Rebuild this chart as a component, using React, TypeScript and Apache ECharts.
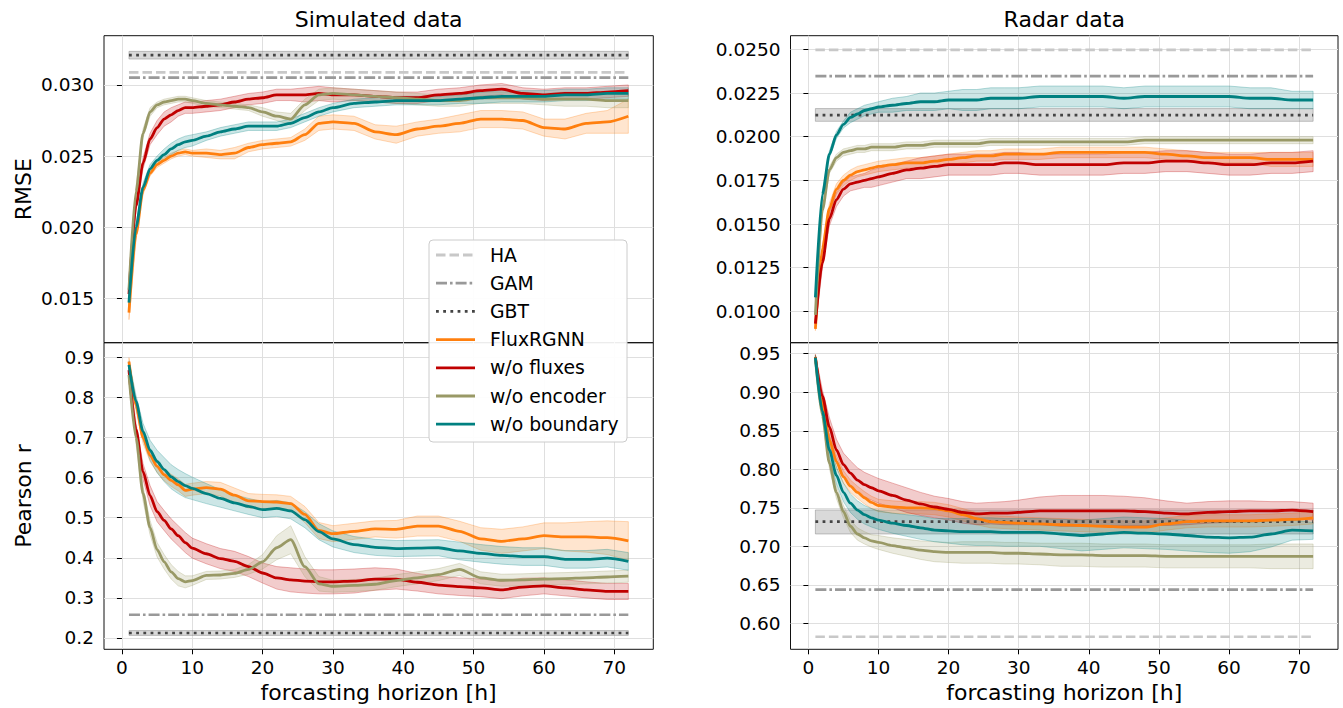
import { useEffect, useRef } from 'react';
import * as echarts from 'echarts';

// ---------- data ----------
const HOURS = [1, 2, 3, 4, 5, 6, 7, 8, 9, 10, 12, 14, 16, 18, 20, 22, 24, 26, 28, 30, 33, 36, 39, 42, 45, 48, 51, 54, 57, 60, 63, 66, 69, 72];
const X_TICKS = [0, 10, 20, 30, 40, 50, 60, 70];

const MODEL_NAMES = ['FluxRGNN', 'w/o fluxes', 'w/o encoder', 'w/o boundary'];
const BASELINE_NAMES = ['HA', 'GAM', 'GBT'];

// Simulated data – RMSE
const SIM_RMSE_TICKS = [0.015, 0.02, 0.025, 0.03];
const SIM_RMSE_FLUX = [0.0140, 0.0195, 0.0226, 0.0238, 0.0244, 0.0247, 0.0250, 0.0252, 0.0253, 0.0252, 0.0252, 0.0251, 0.0252, 0.0256, 0.0258, 0.0259, 0.0260, 0.0265, 0.0273, 0.0274, 0.0273, 0.0267, 0.0265, 0.0269, 0.0271, 0.0273, 0.0276, 0.0276, 0.0275, 0.0270, 0.0269, 0.0273, 0.0274, 0.0278];
const SIM_RMSE_FLUX_SD = [0.0005, 0.0004, 0.0003, 0.0002, 0.0002, 0.0002, 0.0002, 0.0002, 0.0002, 0.0002, 0.0003, 0.0003, 0.0004, 0.0003, 0.0003, 0.0003, 0.0003, 0.0004, 0.0005, 0.0005, 0.0005, 0.0005, 0.0006, 0.0005, 0.0005, 0.0006, 0.0006, 0.0006, 0.0006, 0.0006, 0.0007, 0.0007, 0.0008, 0.0012];
const SIM_RMSE_NOFLUX = [0.0153, 0.0215, 0.0245, 0.0262, 0.0270, 0.0276, 0.0279, 0.0282, 0.0284, 0.0284, 0.0285, 0.0286, 0.0288, 0.0290, 0.0291, 0.0293, 0.0293, 0.0293, 0.0294, 0.0293, 0.0293, 0.0292, 0.0291, 0.0291, 0.0293, 0.0294, 0.0296, 0.0297, 0.0294, 0.0293, 0.0294, 0.0294, 0.0295, 0.0296];
const SIM_RMSE_NOFLUX_SD = [0.0003, 0.0003, 0.0004, 0.0004, 0.0005, 0.0005, 0.0005, 0.0004, 0.0004, 0.0004, 0.0004, 0.0004, 0.0004, 0.0004, 0.0004, 0.0004, 0.0004, 0.0005, 0.0005, 0.0005, 0.0004, 0.0004, 0.0004, 0.0004, 0.0004, 0.0004, 0.0004, 0.0004, 0.0004, 0.0004, 0.0004, 0.0004, 0.0004, 0.0004];
const SIM_RMSE_NOENC = [0.0156, 0.0225, 0.0266, 0.0281, 0.0286, 0.0288, 0.0289, 0.0290, 0.0290, 0.0289, 0.0287, 0.0286, 0.0285, 0.0284, 0.0281, 0.0278, 0.0276, 0.0286, 0.0293, 0.0294, 0.0293, 0.0292, 0.0291, 0.0290, 0.0289, 0.0289, 0.0291, 0.0291, 0.0291, 0.0290, 0.0290, 0.0290, 0.0289, 0.0289];
const SIM_RMSE_NOENC_SD = [0.0002, 0.0003, 0.0003, 0.0003, 0.0002, 0.0002, 0.0002, 0.0002, 0.0002, 0.0002, 0.0002, 0.0002, 0.0002, 0.0002, 0.0003, 0.0003, 0.0004, 0.0004, 0.0004, 0.0004, 0.0004, 0.0004, 0.0004, 0.0004, 0.0004, 0.0004, 0.0004, 0.0004, 0.0004, 0.0004, 0.0005, 0.0005, 0.0005, 0.0005];
const SIM_RMSE_NOBND = [0.0147, 0.0200, 0.0228, 0.0241, 0.0247, 0.0251, 0.0255, 0.0258, 0.0260, 0.0261, 0.0264, 0.0267, 0.0269, 0.0271, 0.0271, 0.0271, 0.0273, 0.0277, 0.0281, 0.0284, 0.0287, 0.0288, 0.0289, 0.0289, 0.0289, 0.0290, 0.0291, 0.0292, 0.0292, 0.0292, 0.0293, 0.0293, 0.0294, 0.0294];
const SIM_RMSE_NOBND_SD = [0.0002, 0.0002, 0.0003, 0.0003, 0.0003, 0.0004, 0.0004, 0.0004, 0.0004, 0.0004, 0.0003, 0.0003, 0.0003, 0.0003, 0.0003, 0.0003, 0.0003, 0.0003, 0.0003, 0.0003, 0.0003, 0.0003, 0.0003, 0.0003, 0.0003, 0.0003, 0.0004, 0.0004, 0.0004, 0.0004, 0.0004, 0.0004, 0.0004, 0.0004];
const SIM_RMSE_BASE = [0.03088, 0.03051, 0.03209]; // HA, GAM, GBT
const SIM_RMSE_GBT_RANGE = [0.03182, 0.03236];

// Simulated data – Pearson r
const SIM_R_TICKS = [0.2, 0.3, 0.4, 0.5, 0.6, 0.7, 0.8, 0.9];
const SIM_R_FLUX = [0.889, 0.780, 0.700, 0.655, 0.628, 0.607, 0.593, 0.582, 0.568, 0.571, 0.575, 0.571, 0.556, 0.542, 0.540, 0.539, 0.535, 0.508, 0.468, 0.460, 0.466, 0.472, 0.471, 0.479, 0.479, 0.466, 0.447, 0.441, 0.447, 0.455, 0.452, 0.452, 0.450, 0.442];
const SIM_R_FLUX_SD = [0.010, 0.012, 0.015, 0.015, 0.015, 0.015, 0.015, 0.015, 0.015, 0.015, 0.015, 0.017, 0.018, 0.018, 0.018, 0.018, 0.018, 0.020, 0.020, 0.020, 0.020, 0.020, 0.022, 0.025, 0.025, 0.025, 0.028, 0.030, 0.030, 0.032, 0.035, 0.038, 0.042, 0.048];
const SIM_R_NOFLUX = [0.868, 0.720, 0.615, 0.555, 0.515, 0.493, 0.472, 0.455, 0.438, 0.424, 0.410, 0.398, 0.391, 0.378, 0.362, 0.350, 0.345, 0.342, 0.340, 0.340, 0.342, 0.347, 0.347, 0.339, 0.332, 0.328, 0.325, 0.320, 0.327, 0.330, 0.325, 0.320, 0.316, 0.316];
const SIM_R_NOFLUX_SD = [0.010, 0.015, 0.020, 0.025, 0.025, 0.025, 0.025, 0.025, 0.025, 0.025, 0.025, 0.025, 0.025, 0.025, 0.025, 0.028, 0.030, 0.030, 0.030, 0.030, 0.030, 0.028, 0.025, 0.022, 0.022, 0.022, 0.022, 0.022, 0.022, 0.020, 0.020, 0.020, 0.020, 0.020];
const SIM_R_NOENC = [0.856, 0.700, 0.560, 0.475, 0.420, 0.390, 0.365, 0.348, 0.340, 0.343, 0.356, 0.357, 0.361, 0.371, 0.390, 0.425, 0.445, 0.378, 0.335, 0.329, 0.331, 0.334, 0.343, 0.350, 0.358, 0.371, 0.350, 0.344, 0.345, 0.347, 0.348, 0.350, 0.352, 0.354];
const SIM_R_NOENC_SD = [0.010, 0.015, 0.018, 0.018, 0.018, 0.018, 0.018, 0.018, 0.015, 0.012, 0.010, 0.010, 0.010, 0.012, 0.018, 0.030, 0.035, 0.025, 0.018, 0.015, 0.015, 0.015, 0.015, 0.015, 0.015, 0.015, 0.015, 0.015, 0.015, 0.015, 0.015, 0.015, 0.015, 0.015];
const SIM_R_NOBND = [0.881, 0.790, 0.715, 0.668, 0.640, 0.620, 0.602, 0.590, 0.580, 0.573, 0.560, 0.548, 0.537, 0.528, 0.520, 0.523, 0.517, 0.495, 0.465, 0.447, 0.433, 0.426, 0.423, 0.424, 0.425, 0.417, 0.411, 0.406, 0.403, 0.403, 0.396, 0.396, 0.399, 0.391];
const SIM_R_NOBND_SD = [0.010, 0.015, 0.020, 0.025, 0.028, 0.030, 0.030, 0.030, 0.030, 0.028, 0.025, 0.022, 0.020, 0.020, 0.020, 0.020, 0.020, 0.020, 0.020, 0.020, 0.020, 0.020, 0.020, 0.020, 0.020, 0.022, 0.022, 0.022, 0.022, 0.022, 0.022, 0.022, 0.022, 0.022];
const SIM_R_BASE = [NaN, 0.258, 0.2125]; // HA (off-scale), GAM, GBT
const SIM_R_GBT_RANGE = [0.2065, 0.2185];

// Radar data – RMSE
const RAD_RMSE_TICKS = [0.01, 0.0125, 0.015, 0.0175, 0.02, 0.0225, 0.025];
const RAD_RMSE_FLUX = [0.0090, 0.0136, 0.0159, 0.0170, 0.0175, 0.0178, 0.0180, 0.0181, 0.0182, 0.0183, 0.0184, 0.0185, 0.0185, 0.0186, 0.0187, 0.0188, 0.0189, 0.0189, 0.0190, 0.0190, 0.0190, 0.0191, 0.0191, 0.0191, 0.0191, 0.0191, 0.0190, 0.0189, 0.0188, 0.0188, 0.0188, 0.0187, 0.0187, 0.0187];
const RAD_RMSE_FLUX_SD = [0.0001, 0.0002, 0.0003, 0.0003, 0.0003, 0.0003, 0.0003, 0.0003, 0.0003, 0.0003, 0.0003, 0.0003, 0.0003, 0.0003, 0.0003, 0.0003, 0.0003, 0.0003, 0.0003, 0.0003, 0.0003, 0.0003, 0.0003, 0.0003, 0.0003, 0.0003, 0.0003, 0.0003, 0.0003, 0.0003, 0.0003, 0.0004, 0.0004, 0.0004];
const RAD_RMSE_NOFLUX = [0.0093, 0.0128, 0.0153, 0.0164, 0.0170, 0.0173, 0.0174, 0.0175, 0.0176, 0.0177, 0.0179, 0.0181, 0.0182, 0.0183, 0.0184, 0.0184, 0.0184, 0.0184, 0.0185, 0.0185, 0.0184, 0.0184, 0.0184, 0.0184, 0.0185, 0.0185, 0.0186, 0.0186, 0.0185, 0.0184, 0.0184, 0.0185, 0.0185, 0.0186];
const RAD_RMSE_NOFLUX_SD = [0.0002, 0.0003, 0.0004, 0.0004, 0.0004, 0.0004, 0.0004, 0.0004, 0.0005, 0.0005, 0.0005, 0.0005, 0.0006, 0.0006, 0.0006, 0.0006, 0.0006, 0.0006, 0.0006, 0.0006, 0.0006, 0.0006, 0.0006, 0.0006, 0.0006, 0.0006, 0.0006, 0.0006, 0.0006, 0.0006, 0.0006, 0.0006, 0.0006, 0.0006];
const RAD_RMSE_NOENC = [0.0098, 0.0158, 0.0181, 0.0188, 0.0191, 0.0192, 0.0193, 0.0193, 0.0194, 0.0194, 0.0194, 0.0195, 0.0195, 0.0196, 0.0196, 0.0196, 0.0196, 0.0197, 0.0197, 0.0197, 0.0197, 0.0197, 0.0197, 0.0197, 0.0197, 0.0198, 0.0198, 0.0198, 0.0198, 0.0198, 0.0198, 0.0198, 0.0198, 0.0198];
const RAD_RMSE_NOENC_SD = [0.0001, 0.0002, 0.0002, 0.0002, 0.0002, 0.0002, 0.0002, 0.0002, 0.0002, 0.0002, 0.0002, 0.0002, 0.0002, 0.0002, 0.0002, 0.0002, 0.0002, 0.0002, 0.0002, 0.0002, 0.0002, 0.0002, 0.0002, 0.0002, 0.0002, 0.0002, 0.0002, 0.0002, 0.0002, 0.0002, 0.0002, 0.0002, 0.0002, 0.0002];
const RAD_RMSE_NOBND = [0.0108, 0.0167, 0.0190, 0.0201, 0.0207, 0.0211, 0.0213, 0.0215, 0.0216, 0.0217, 0.0218, 0.0219, 0.0220, 0.0220, 0.0221, 0.0221, 0.0221, 0.0222, 0.0222, 0.0222, 0.0223, 0.0223, 0.0223, 0.0223, 0.0222, 0.0223, 0.0223, 0.0223, 0.0223, 0.0223, 0.0222, 0.0222, 0.0221, 0.0221];
const RAD_RMSE_NOBND_SD = [0.0001, 0.0002, 0.0002, 0.0002, 0.0002, 0.0003, 0.0003, 0.0003, 0.0003, 0.0003, 0.0004, 0.0004, 0.0005, 0.0005, 0.0005, 0.0006, 0.0006, 0.0006, 0.0006, 0.0006, 0.0006, 0.0006, 0.0006, 0.0006, 0.0006, 0.0006, 0.0006, 0.0006, 0.0006, 0.0006, 0.0006, 0.0006, 0.0005, 0.0005];
const RAD_RMSE_BASE = [0.02497, 0.02347, 0.02123];
const RAD_RMSE_GBT_RANGE = [0.02088, 0.02161];

// Radar data – Pearson r
const RAD_R_TICKS = [0.6, 0.65, 0.7, 0.75, 0.8, 0.85, 0.9, 0.95];
const RAD_R_FLUX = [0.946, 0.885, 0.838, 0.810, 0.790, 0.778, 0.770, 0.763, 0.757, 0.753, 0.751, 0.750, 0.750, 0.749, 0.746, 0.741, 0.736, 0.732, 0.731, 0.730, 0.729, 0.728, 0.727, 0.726, 0.725, 0.725, 0.729, 0.732, 0.733, 0.733, 0.733, 0.734, 0.735, 0.737];
const RAD_R_FLUX_SD = [0.003, 0.005, 0.007, 0.008, 0.008, 0.008, 0.008, 0.008, 0.008, 0.008, 0.008, 0.008, 0.008, 0.008, 0.008, 0.008, 0.008, 0.008, 0.008, 0.008, 0.008, 0.008, 0.008, 0.008, 0.008, 0.008, 0.008, 0.008, 0.008, 0.008, 0.008, 0.008, 0.008, 0.008];
const RAD_R_NOFLUX = [0.945, 0.895, 0.855, 0.825, 0.806, 0.795, 0.786, 0.780, 0.776, 0.772, 0.766, 0.760, 0.755, 0.751, 0.748, 0.744, 0.742, 0.743, 0.743, 0.744, 0.746, 0.746, 0.746, 0.746, 0.746, 0.745, 0.743, 0.742, 0.744, 0.745, 0.746, 0.746, 0.747, 0.745];
const RAD_R_NOFLUX_SD = [0.004, 0.008, 0.012, 0.014, 0.015, 0.016, 0.016, 0.016, 0.016, 0.016, 0.016, 0.016, 0.015, 0.014, 0.014, 0.014, 0.014, 0.014, 0.015, 0.016, 0.018, 0.020, 0.020, 0.020, 0.019, 0.018, 0.016, 0.014, 0.014, 0.014, 0.013, 0.012, 0.011, 0.011];
const RAD_R_NOENC = [0.944, 0.870, 0.808, 0.770, 0.745, 0.726, 0.716, 0.711, 0.707, 0.705, 0.701, 0.698, 0.695, 0.693, 0.692, 0.692, 0.692, 0.692, 0.691, 0.691, 0.690, 0.689, 0.689, 0.688, 0.688, 0.688, 0.687, 0.687, 0.687, 0.687, 0.687, 0.687, 0.687, 0.687];
const RAD_R_NOENC_SD = [0.003, 0.005, 0.007, 0.008, 0.008, 0.008, 0.008, 0.008, 0.008, 0.009, 0.010, 0.011, 0.012, 0.013, 0.013, 0.014, 0.014, 0.014, 0.014, 0.014, 0.014, 0.015, 0.015, 0.015, 0.015, 0.015, 0.015, 0.015, 0.015, 0.015, 0.015, 0.016, 0.016, 0.016];
const RAD_R_NOBND = [0.945, 0.875, 0.825, 0.792, 0.770, 0.756, 0.747, 0.741, 0.737, 0.734, 0.730, 0.727, 0.724, 0.721, 0.720, 0.719, 0.719, 0.719, 0.718, 0.718, 0.718, 0.716, 0.714, 0.716, 0.718, 0.717, 0.716, 0.714, 0.712, 0.711, 0.712, 0.716, 0.721, 0.720];
const RAD_R_NOBND_SD = [0.003, 0.006, 0.009, 0.011, 0.012, 0.012, 0.012, 0.012, 0.012, 0.012, 0.013, 0.014, 0.015, 0.015, 0.016, 0.017, 0.018, 0.018, 0.018, 0.018, 0.018, 0.019, 0.020, 0.020, 0.020, 0.020, 0.020, 0.020, 0.020, 0.020, 0.019, 0.017, 0.013, 0.011];
const RAD_R_BASE = [0.5826, 0.6437, 0.7321];
const RAD_R_GBT_RANGE = [0.716, 0.7472];

// ---------- styling ----------
const FONT = '"DejaVu Sans", "Liberation Sans", sans-serif';
const MODEL_COLORS = ['#ff7f0e', '#c00000', '#999966', '#008080'];
const BASE_COLORS = ['#c8c8c8', '#999999', '#444444'];
const BASE_DASH = [[9.5, 4], [11, 3, 2.6, 3], [2.8, 4.4]];

function rgba(hex: string, a: number) {
  const n = parseInt(hex.slice(1), 16);
  return `rgba(${(n >> 16) & 255},${(n >> 8) & 255},${n & 255},${a})`;
}

type Panel = {
  left: number; top: number; width: number; height: number;
  yMin: number; yMax: number; yTicks: number[]; yDigits: number; showX: boolean;
  means: number[][]; sds: number[][]; base: number[]; gbtRange: number[];
};

const LEFT_X = 104, RIGHT_X = 790.5, TOP_Y = 35.7, MID_Y = 342.7, BOT_Y = 649.3;
const LEFT_W = 549.3, RIGHT_W = 547.5;

const PANELS: Panel[] = [
  {
    left: LEFT_X, top: TOP_Y, width: LEFT_W, height: MID_Y - TOP_Y,
    yMin: 0.01188, yMax: 0.03346, yTicks: SIM_RMSE_TICKS, yDigits: 3, showX: false,
    means: [SIM_RMSE_FLUX, SIM_RMSE_NOFLUX, SIM_RMSE_NOENC, SIM_RMSE_NOBND],
    sds: [SIM_RMSE_FLUX_SD, SIM_RMSE_NOFLUX_SD, SIM_RMSE_NOENC_SD, SIM_RMSE_NOBND_SD],
    base: SIM_RMSE_BASE, gbtRange: SIM_RMSE_GBT_RANGE,
  },
  {
    left: RIGHT_X, top: TOP_Y, width: RIGHT_W, height: MID_Y - TOP_Y,
    yMin: 0.00821, yMax: 0.02578, yTicks: RAD_RMSE_TICKS, yDigits: 4, showX: false,
    means: [RAD_RMSE_FLUX, RAD_RMSE_NOFLUX, RAD_RMSE_NOENC, RAD_RMSE_NOBND],
    sds: [RAD_RMSE_FLUX_SD, RAD_RMSE_NOFLUX_SD, RAD_RMSE_NOENC_SD, RAD_RMSE_NOBND_SD],
    base: RAD_RMSE_BASE, gbtRange: RAD_RMSE_GBT_RANGE,
  },
  {
    left: LEFT_X, top: MID_Y, width: LEFT_W, height: BOT_Y - MID_Y,
    yMin: 0.1718, yMax: 0.9362, yTicks: SIM_R_TICKS, yDigits: 1, showX: true,
    means: [SIM_R_FLUX, SIM_R_NOFLUX, SIM_R_NOENC, SIM_R_NOBND],
    sds: [SIM_R_FLUX_SD, SIM_R_NOFLUX_SD, SIM_R_NOENC_SD, SIM_R_NOBND_SD],
    base: SIM_R_BASE, gbtRange: SIM_R_GBT_RANGE,
  },
  {
    left: RIGHT_X, top: MID_Y, width: RIGHT_W, height: BOT_Y - MID_Y,
    yMin: 0.5663, yMax: 0.9643, yTicks: RAD_R_TICKS, yDigits: 2, showX: true,
    means: [RAD_R_FLUX, RAD_R_NOFLUX, RAD_R_NOENC, RAD_R_NOBND],
    sds: [RAD_R_FLUX_SD, RAD_R_NOFLUX_SD, RAD_R_NOENC_SD, RAD_R_NOBND_SD],
    base: RAD_R_BASE, gbtRange: RAD_R_GBT_RANGE,
  },
];

function bandSeries(gi: number, xs: number[], lo: number[], hi: number[], fill: string, stroke: string) {
  return {
    type: 'custom',
    xAxisIndex: gi,
    yAxisIndex: gi,
    silent: true,
    data: xs.map((x, i) => [x, lo[i], hi[i]]),
    encode: { x: 0, y: [1, 2] },
    renderItem: (params: any, api: any) => {
      if (params.dataIndex !== 0) return null;
      const up = xs.map((x, i) => api.coord([x, hi[i]]));
      const dn = xs.map((x, i) => api.coord([x, lo[i]])).reverse();
      return {
        type: 'polygon',
        shape: { points: up.concat(dn) },
        style: { fill, stroke, lineWidth: 1 },
      };
    },
  };
}

function buildOption() {
  const grid: any[] = [];
  const xAxis: any[] = [];
  const yAxis: any[] = [];
  const series: any[] = [];
  const x0 = HOURS[0];
  const x1 = HOURS[HOURS.length - 1];

  PANELS.forEach((p, gi) => {
    grid.push({
      left: p.left, top: p.top, width: p.width, height: p.height,
      show: true, borderColor: '#111', borderWidth: 1, backgroundColor: 'transparent',
    });
    xAxis.push({
      type: 'value', gridIndex: gi, min: -2.55, max: 75.55,
      axisLine: { show: false },
      axisTick: { show: p.showX, customValues: X_TICKS, length: 5, lineStyle: { color: '#000', width: 1 } },
      axisLabel: {
        show: p.showX, customValues: X_TICKS, margin: 9, color: '#000', fontSize: 18.5, fontFamily: FONT,
        formatter: (v: number) => String(Math.round(v)),
      },
      splitLine: { show: true, lineStyle: { color: '#dfdfdf', width: 1 } },
    });
    yAxis.push({
      type: 'value', gridIndex: gi, min: p.yMin, max: p.yMax,
      axisLine: { show: false },
      axisTick: { show: true, customValues: p.yTicks, length: 5, lineStyle: { color: '#000', width: 1 } },
      axisLabel: {
        show: true, customValues: p.yTicks, margin: 10, color: '#000', fontSize: 18.5, fontFamily: FONT,
        formatter: (v: number) => v.toFixed(p.yDigits),
      },
      splitLine: { show: true, lineStyle: { color: '#dfdfdf', width: 1 } },
    });

    // baselines: HA, GAM, GBT (with GBT range band)
    series.push(bandSeries(gi, [x0, x1], [p.gbtRange[0], p.gbtRange[0]], [p.gbtRange[1], p.gbtRange[1]],
      'rgba(128,128,128,0.3)', 'rgba(128,128,128,0.45)'));
    p.base.forEach((v, bi) => {
      if (!isFinite(v)) return;
      series.push({
        type: 'line', name: BASELINE_NAMES[bi], xAxisIndex: gi, yAxisIndex: gi,
        data: [[x0, v], [x1, v]], symbol: 'none', silent: true,
        lineStyle: { color: BASE_COLORS[bi], width: 2.7, type: BASE_DASH[bi], cap: 'butt' },
      });
    });

    // models: band + line
    p.means.forEach((m, mi) => {
      const sd = p.sds[mi];
      const lo = m.map((v, i) => v - sd[i]);
      const hi = m.map((v, i) => v + sd[i]);
      series.push(bandSeries(gi, HOURS, lo, hi, rgba(MODEL_COLORS[mi], 0.2), rgba(MODEL_COLORS[mi], 0.28)));
      series.push({
        type: 'line', name: MODEL_NAMES[mi], xAxisIndex: gi, yAxisIndex: gi,
        data: HOURS.map((x, i) => [x, m[i]]), symbol: 'none', showSymbol: false, silent: true,
        smooth: 0.25, smoothMonotone: 'x',
        lineStyle: { color: MODEL_COLORS[mi], width: 2.8 },
      });
    });
  });

  // titles, axis labels, legend
  const graphic: any[] = [];
  const text = (t: string, x: number, y: number, size: number, extra: any = {}) => ({
    type: 'text', x, y, z: 200, silent: true, ...extra,
    style: { text: t, fill: '#000', fontSize: size, fontFamily: FONT, textAlign: 'center', textVerticalAlign: 'middle' },
  });
  graphic.push(text('Simulated data', LEFT_X + LEFT_W / 2, 19, 22));
  graphic.push(text('Radar data', RIGHT_X + RIGHT_W / 2, 19, 22));
  graphic.push(text('RMSE', 23, (TOP_Y + MID_Y) / 2, 22, { rotation: Math.PI / 2 }));
  graphic.push(text('Pearson r', 23, (MID_Y + BOT_Y) / 2, 22, { rotation: Math.PI / 2 }));
  graphic.push(text('forcasting horizon [h]', LEFT_X + LEFT_W / 2, 692, 22));
  graphic.push(text('forcasting horizon [h]', RIGHT_X + RIGHT_W / 2, 692, 22));

  const LEG_X = 429, LEG_Y = 240, LEG_W = 198, LEG_H = 202;
  graphic.push({
    type: 'rect', z: 190, silent: true,
    shape: { x: LEG_X, y: LEG_Y, width: LEG_W, height: LEG_H, r: 4 },
    style: { fill: 'rgba(255,255,255,0.92)', stroke: '#cccccc', lineWidth: 1 },
  });
  const legendEntries = [
    ...BASELINE_NAMES.map((n, i) => ({ name: n, color: BASE_COLORS[i], dash: BASE_DASH[i] as any })),
    ...MODEL_NAMES.map((n, i) => ({ name: n, color: MODEL_COLORS[i], dash: null as any })),
  ];
  legendEntries.forEach((e, i) => {
    const yc = LEG_Y + 15 + i * 28.2;
    graphic.push({
      type: 'line', z: 195, silent: true,
      shape: { x1: LEG_X + 7, y1: yc, x2: LEG_X + 46, y2: yc },
      style: { stroke: e.color, lineWidth: 2.8, lineDash: e.dash || undefined, lineCap: 'butt' },
    });
    graphic.push({
      type: 'text', x: LEG_X + 61, y: yc, z: 196, silent: true,
      style: { text: e.name, fill: '#000', fontSize: 18.8, fontFamily: FONT, textAlign: 'left', textVerticalAlign: 'middle' },
    });
  });

  return {
    animation: false,
    backgroundColor: '#ffffff',
    textStyle: { fontFamily: FONT },
    grid, xAxis, yAxis, series, graphic,
  };
}

export default function App() {
  const ref = useRef<HTMLDivElement>(null);
  useEffect(() => {
    if (!ref.current) return;
    const chart = echarts.init(ref.current, undefined, { renderer: 'svg' });
    chart.setOption(buildOption() as any);
    return () => chart.dispose();
  }, []);
  return (
    <div
      ref={ref}
      style={{ position: 'fixed', left: 0, top: 0, width: 1343, height: 708, background: '#fff' }}
    />
  );
}
